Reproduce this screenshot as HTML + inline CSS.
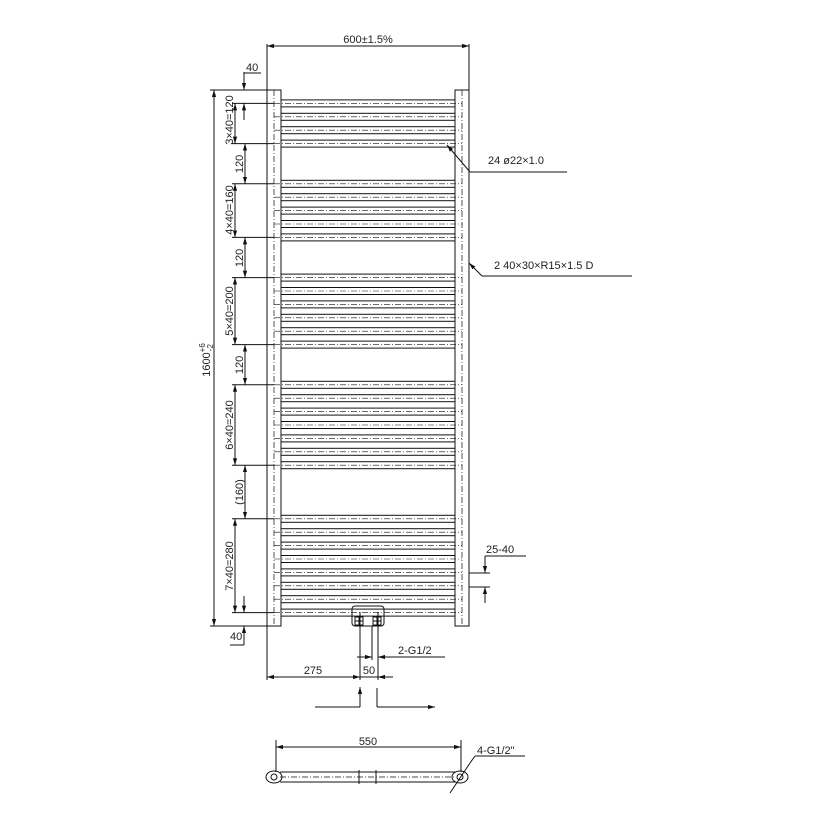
<!DOCTYPE html>
<html><head><meta charset="utf-8"><style>
html,body{margin:0;padding:0;background:#fff;}
svg{display:block;}
text{font-family:"Liberation Sans",sans-serif;font-size:11px;fill:#222;}
</style></head><body>
<svg id="s" width="830" height="830" viewBox="0 0 830 830" xmlns="http://www.w3.org/2000/svg">
<defs>
<marker id="a" viewBox="0 0 10 10" refX="10" refY="5" markerWidth="7" markerHeight="7" orient="auto-start-reverse" markerUnits="userSpaceOnUse"><path d="M0,2 L10,5 L0,8 z" fill="#111"/></marker>
</defs>
<g stroke="#111" stroke-width="1" fill="none" id="g">
<rect x="267" y="90" width="14" height="536"/>
<rect x="455" y="90" width="14" height="536"/>
<line x1="274" y1="90" x2="274" y2="626" stroke-dasharray="6,2,1,2" stroke-width="0.7"/>
<line x1="462" y1="90" x2="462" y2="626" stroke-dasharray="6,2,1,2" stroke-width="0.7"/>
<line x1="267" y1="44" x2="267" y2="90"/>
<line x1="469" y1="44" x2="469" y2="90"/>
<line x1="267" y1="46" x2="469" y2="46" marker-start="url(#a)" marker-end="url(#a)"/>
<line x1="210" y1="90" x2="267" y2="90"/>
<line x1="210" y1="626" x2="267" y2="626"/>
<line x1="214" y1="90" x2="214" y2="626" marker-start="url(#a)" marker-end="url(#a)"/>
<line x1="244" y1="72" x2="244" y2="90" marker-end="url(#a)"/>
<line x1="244" y1="73" x2="261" y2="73"/>
<line x1="244" y1="120" x2="244" y2="103.4" marker-end="url(#a)"/>
<line x1="244" y1="596" x2="244" y2="612.6" marker-end="url(#a)"/>
<line x1="244" y1="645" x2="244" y2="626" marker-end="url(#a)"/>
<line x1="230" y1="645" x2="244" y2="645"/>
<rect x="352" y="606" width="32" height="20" rx="3"/>
<rect x="355" y="617" width="8" height="8"/><line x1="355" y1="621" x2="363" y2="621"/><line x1="359" y1="617" x2="359" y2="625"/>
<rect x="373" y="617" width="8" height="8"/><line x1="373" y1="621" x2="381" y2="621"/><line x1="377" y1="617" x2="377" y2="625"/>
<line x1="360" y1="612" x2="360" y2="680"/>
<line x1="378" y1="612" x2="378" y2="680"/>
<line x1="372" y1="626" x2="372" y2="660"/>
<line x1="267" y1="626" x2="267" y2="680"/>
<line x1="267" y1="677" x2="360" y2="677" marker-start="url(#a)" marker-end="url(#a)"/>
<line x1="360" y1="677" x2="378" y2="677"/>
<line x1="378" y1="677" x2="393" y2="677" marker-start="url(#a)"/>
<line x1="357" y1="657" x2="372" y2="657" marker-end="url(#a)"/>
<line x1="389" y1="657" x2="378" y2="657" marker-end="url(#a)"/>
<line x1="389" y1="657" x2="445" y2="657"/>
<line x1="315" y1="707" x2="360" y2="707"/>
<line x1="360" y1="707" x2="360" y2="687" marker-end="url(#a)"/>
<line x1="377" y1="688" x2="377" y2="707"/>
<line x1="377" y1="707" x2="435" y2="707" marker-end="url(#a)"/>
<line x1="469" y1="573" x2="490" y2="573"/>
<line x1="469" y1="587" x2="490" y2="587"/>
<line x1="485" y1="556" x2="485" y2="573" marker-end="url(#a)"/>
<line x1="485" y1="603" x2="485" y2="587" marker-end="url(#a)"/>
<line x1="485" y1="556" x2="526" y2="556"/>
<line x1="470" y1="172" x2="447" y2="145" marker-end="url(#a)"/>
<line x1="470" y1="172" x2="567" y2="172"/>
<line x1="482" y1="276" x2="469" y2="263" marker-end="url(#a)"/>
<line x1="482" y1="276" x2="632" y2="276"/>
<line x1="276" y1="740" x2="276" y2="772"/>
<line x1="461" y1="740" x2="461" y2="772"/>
<line x1="276" y1="747" x2="461" y2="747" marker-start="url(#a)" marker-end="url(#a)"/>
<line x1="280" y1="772" x2="456" y2="772"/>
<line x1="280" y1="782" x2="456" y2="782"/>
<line x1="280" y1="777" x2="456" y2="777" stroke-dasharray="6,2,1,2" stroke-width="0.7"/>
<ellipse cx="274" cy="777" rx="8" ry="6"/><circle cx="274" cy="777" r="3"/>
<ellipse cx="460" cy="777" rx="8" ry="6"/><circle cx="460" cy="777" r="3"/>
<line x1="359" y1="770" x2="359" y2="784"/><line x1="376" y1="770" x2="376" y2="784"/>
<line x1="450" y1="793" x2="470" y2="763"/>
<line x1="470" y1="763" x2="475" y2="756"/>
<line x1="475" y1="756" x2="525" y2="756"/>
</g>
<text x="368" y="43" text-anchor="middle">600±1.5%</text>
<text x="246" y="71">40</text>
<text x="230" y="640">40</text>
<text x="488" y="164">24 ø22×1.0</text>
<text x="494" y="269">2  40×30×R15×1.5  D</text>
<text x="486" y="553">25-40</text>
<text x="398" y="654">2-G1/2</text>
<text x="313" y="674" text-anchor="middle">275</text>
<text x="369" y="674" text-anchor="middle">50</text>
<text x="368" y="745" text-anchor="middle">550</text>
<text x="477" y="754">4-G1/2"</text>
<text transform="translate(210,360) rotate(-90)" text-anchor="middle">1600<tspan font-size="8" dy="-5">+6</tspan><tspan font-size="8" dx="-8" dy="8">-2</tspan></text>
<text transform="translate(233,120) rotate(-90)" text-anchor="middle">3×40=120</text>
<text transform="translate(233,210) rotate(-90)" text-anchor="middle">4×40=160</text>
<text transform="translate(233,311) rotate(-90)" text-anchor="middle">5×40=200</text>
<text transform="translate(233,425) rotate(-90)" text-anchor="middle">6×40=240</text>
<text transform="translate(233,566) rotate(-90)" text-anchor="middle">7×40=280</text>
<text transform="translate(243,164) rotate(-90)" text-anchor="middle">120</text>
<text transform="translate(243,258) rotate(-90)" text-anchor="middle">120</text>
<text transform="translate(243,365) rotate(-90)" text-anchor="middle">120</text>
<text transform="translate(243,492) rotate(-90)" text-anchor="middle">(160)</text>
</svg>
<script>
(function(){
var ns="http://www.w3.org/2000/svg",g=document.getElementById("g");
function Y(m){return 90+m*0.335;}
function el(n,a){var e=document.createElementNS(ns,n);for(var k in a)e.setAttribute(k,a[k]);g.appendChild(e);return e;}
var groups=[[40,160],[280,440],[560,760],[880,1120],[1280,1560]];
groups.forEach(function(r){
 for(var m=r[0];m<=r[1];m+=40){var c=Y(m);
  el("rect",{x:281,y:c-3.5,width:174,height:7});
  el("line",{x1:274,y1:c,x2:462,y2:c,"stroke-dasharray":"6,2,1,2","stroke-width":0.6});
 }
 el("line",{x1:232,y1:Y(r[0]),x2:274,y2:Y(r[0])});
 el("line",{x1:232,y1:Y(r[1]),x2:274,y2:Y(r[1])});
 el("line",{x1:235,y1:Y(r[0]),x2:235,y2:Y(r[1]),"marker-start":"url(#a)","marker-end":"url(#a)"});
});
var gaps=[[160,280],[440,560],[760,880],[1120,1280]];
gaps.forEach(function(r){el("line",{x1:245,y1:Y(r[0]),x2:245,y2:Y(r[1]),"marker-start":"url(#a)","marker-end":"url(#a)"});});
})();
</script>
</body></html>
